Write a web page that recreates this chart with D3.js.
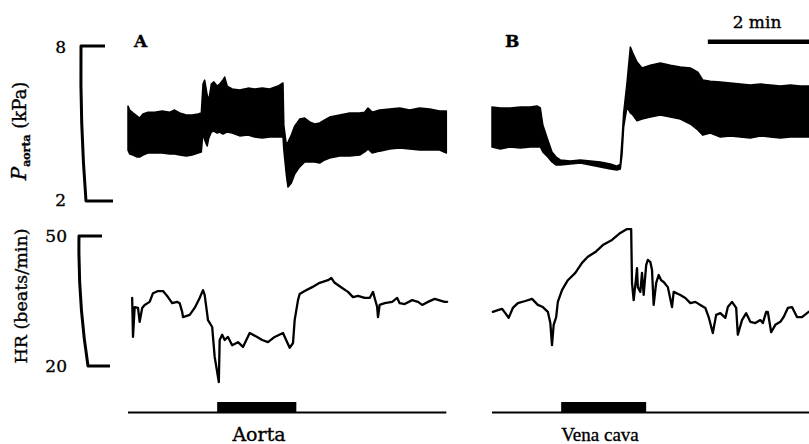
<!DOCTYPE html>
<html><head><meta charset="utf-8">
<script src="https://cdn.jsdelivr.net/npm/d3@7"></script>
<style>body{margin:0;background:#fff} svg{display:block} text{stroke:#000;stroke-width:0.35px}</style>
</head><body>
<svg id="c" width="809" height="444"></svg>
<script>
// ---------- DATA (time in seconds from start of each panel) ----------
const pressureTicks = [8, 2];
const hrTicks = [50, 20];
const panelLabels = ["A", "B"];
const occlusionLabels = ["Aorta", "Vena cava"];
const occlusionA = [107, 202];   // s
const occlusionB = [83, 185];    // s
const scaleBarMin = 2;

// Panel A – aortic pressure (kPa): systolic (top) / diastolic (bottom)
const tA_P = [0,2,6,11,14,18,24,32,41,50,56,62,70,77,84,88,90,92,95,97,100,103,107,110,114,116,119,125,134,144,152,161,170,180,186,187,190,192,196,200,206,212,218,224,230,236,242,254,266,278,284,288,293,302,314,326,338,350,362,374,382];
const sysA = [5.68,5.52,5.41,5.29,5.21,5.37,5.44,5.44,5.48,5.44,5.52,5.41,5.33,5.33,5.37,5.41,6.53,6.68,6.10,5.91,6.53,6.61,6.45,6.53,6.68,6.80,6.45,6.34,6.30,6.37,6.34,6.37,6.34,6.45,6.57,4.94,4.17,4.28,4.55,4.90,5.17,5.21,5.06,4.98,5.02,5.14,5.25,5.33,5.41,5.41,5.44,5.60,5.44,5.52,5.56,5.60,5.52,5.60,5.56,5.48,5.48];
const diaA = [3.97,3.82,3.78,3.70,3.70,3.78,3.86,3.86,3.86,3.82,3.82,3.78,3.74,3.78,3.86,3.90,4.67,4.36,4.13,4.44,4.67,4.71,4.63,4.67,4.59,4.63,4.67,4.63,4.52,4.55,4.48,4.44,4.48,4.48,4.48,3.97,3.01,2.54,2.70,3.04,3.32,3.51,3.51,3.51,3.47,3.59,3.66,3.74,3.74,3.78,3.90,4.01,3.86,3.93,4.01,4.05,4.01,3.97,3.97,3.97,3.86];

// Panel B – aortic pressure (kPa)
const tB_P = [0,10,22,34,46,54,58,61,67,72,77,82,94,106,118,130,142,150,154,156,158,162,166,169,174,180,190,202,214,226,238,247,253,262,274,286,298,310,322,334,346,358,370,380];
const sysB = [5.64,5.60,5.60,5.64,5.64,5.68,5.60,4.94,4.36,3.90,3.70,3.59,3.55,3.59,3.55,3.51,3.43,3.35,3.43,4.36,5.41,6.57,7.96,7.73,7.38,7.15,7.26,7.34,7.26,7.19,7.15,6.99,6.68,6.64,6.61,6.57,6.53,6.49,6.53,6.49,6.45,6.49,6.45,6.45];
const diaB = [4.09,4.01,4.09,4.05,4.09,4.09,4.09,3.90,3.70,3.51,3.39,3.39,3.43,3.47,3.39,3.32,3.24,3.20,3.24,3.78,4.86,5.64,5.41,5.33,5.10,5.17,5.25,5.33,5.25,5.17,4.98,4.75,4.55,4.63,4.48,4.52,4.48,4.44,4.52,4.48,4.44,4.48,4.48,4.48];

// Panel A – heart rate (beats/min)
const tA_H = [5,6,8,12,14,17,20,26,30,36,42,48,53,59,62,65,66,74,80,86,90,92,96,101,104,109,110,113,116,120,125,132,138,146,155,161,168,176,186,191,194,198,200,204,206,212,221,230,240,244,248,257,264,270,276,284,290,294,296,299,300,302,308,317,323,326,332,341,348,353,360,368,380,383];
const hrA = [35.7,26.7,33.6,33.4,30.2,33.4,34.1,34.8,36.8,37.3,37.3,35.9,34.5,34.8,34.5,32.5,31.3,31.8,33.4,35.7,37.5,36.4,30.6,29.0,22.1,16.3,26.0,27.2,26.0,26.7,24.8,25.5,24.4,27.6,26.7,26.0,25.5,26.7,27.6,25.5,24.2,25.3,30.6,35.2,36.6,37.3,38.2,39.2,39.8,40.3,39.2,38.0,37.1,35.9,36.2,35.7,35.7,37.1,35.7,33.6,31.3,34.1,34.5,34.8,35.7,34.5,34.3,35.2,34.8,34.1,34.8,35.5,34.8,34.8];

// Panel B – heart rate (beats/min)
const tB_H = [1,7,12,16,20,25,31,40,48,55,61,67,70,72,74,77,79,84,91,100,108,115,124,133,144,154,162,167,168,170,173,174,175,178,180,182,185,187,190,192,194,197,200,203,206,211,216,218,226,232,238,244,250,256,260,265,269,274,280,283,288,293,295,300,305,310,316,322,325,329,331,335,340,346,350,355,360,366,372,380];
const hrB = [32.5,32.9,33.2,32.2,31.1,33.4,34.5,35.0,35.5,34.1,33.6,32.5,29.9,24.8,29.5,31.3,34.8,37.5,39.8,41.5,43.8,45.2,46.3,47.9,49.1,50.7,51.6,51.6,39.2,35.2,40.5,42.6,38.2,37.1,41.5,36.4,43.3,44.5,44.0,42.2,34.1,39.2,41.0,39.8,39.4,38.2,33.6,37.1,36.4,35.7,34.5,34.8,34.1,33.4,31.3,27.6,31.8,32.2,31.1,33.6,34.8,33.4,27.2,30.6,32.2,30.2,29.9,30.6,29.9,32.5,32.5,27.8,29.5,30.2,31.3,33.4,33.6,31.3,31.3,32.5];

// ---------- DRAWING ----------
const svg = d3.select("#c");
const serif = "'DejaVu Serif', 'Liberation Serif', serif";
const times = "'Liberation Serif', serif";
const yP = d3.scaleLinear().domain([2, 8]).range([201, 46]);
const yH = d3.scaleLinear().domain([20, 50]).range([366, 236]);
const xA = d3.scaleLinear().domain([0, 384]).range([128, 448]);
const xB = d3.scaleLinear().domain([0, 384]).range([492, 812]);

function band(x, t, sys, dia) {
  const idx = d3.range(t.length);
  const area = d3.area()
    .x(i => x(t[i])).y0(i => yP(dia[i])).y1(i => yP(sys[i]))
    .curve(d3.curveLinear);
  svg.append("path").attr("d", area(idx))
    .attr("fill", "#000").attr("stroke", "#000").attr("stroke-width", 1.5)
    .attr("stroke-linejoin", "round");
}
band(xA, tA_P, sysA, diaA);
band(xB, tB_P, sysB, diaB);

function hrLine(x, t, hr) {
  const idx = d3.range(t.length);
  const line = d3.line().x(i => x(t[i])).y(i => yH(hr[i])).curve(d3.curveLinear);
  svg.append("path").attr("d", line(idx))
    .attr("fill", "none").attr("stroke", "#000").attr("stroke-width", 2.3)
    .attr("stroke-linejoin", "round").attr("stroke-linecap", "round");
}
hrLine(xA, tA_H, hrA);
hrLine(xB, tB_H, hrB);

// Bracket axes
function bracket(y, top, bot, xt1, xt2, xb1, xb2) {
  svg.append("path")
    .attr("d", `M${xt2},${y(top)} L${xt1},${y(top)} Q${xt1 - 1},${(y(top) + y(bot)) / 2} ${xb1},${y(bot)} L${xb2},${y(bot)}`)
    .attr("fill", "none").attr("stroke", "#000").attr("stroke-width", 3)
    .attr("stroke-linejoin", "round");
}
bracket(yP, pressureTicks[0], pressureTicks[1], 81, 105, 86, 113);
bracket(yH, hrTicks[0], hrTicks[1], 79, 102, 88, 110);

const tickFont = 17;
svg.append("text").text(pressureTicks[0]).attr("x", 66).attr("y", yP(pressureTicks[0]) + 7)
  .attr("text-anchor", "end").attr("font-family", serif).attr("font-size", tickFont);
svg.append("text").text(pressureTicks[1]).attr("x", 66).attr("y", yP(pressureTicks[1]) + 5)
  .attr("text-anchor", "end").attr("font-family", serif).attr("font-size", tickFont);
svg.append("text").text(hrTicks[0]).attr("x", 67).attr("y", yH(hrTicks[0]) + 6)
  .attr("text-anchor", "end").attr("font-family", serif).attr("font-size", tickFont);
svg.append("text").text(hrTicks[1]).attr("x", 67).attr("y", yH(hrTicks[1]) + 6)
  .attr("text-anchor", "end").attr("font-family", serif).attr("font-size", tickFont);

// Y labels
const pl = svg.append("text").attr("transform", "translate(26,131) rotate(-90)")
  .attr("text-anchor", "middle").attr("font-family", serif).attr("font-size", 18);
pl.append("tspan").text("P").attr("font-style", "italic").attr("font-size", 20);
pl.append("tspan").text("aorta").attr("font-size", 11).attr("font-weight", "bold").attr("dy", 4);
pl.append("tspan").text(" (kPa)").attr("dy", -4);

svg.append("text").text("HR (beats/min)").attr("transform", "translate(27,296) rotate(-90)")
  .attr("text-anchor", "middle").attr("font-family", serif).attr("font-size", 17.5);

// Panel labels
svg.append("text").text(panelLabels[0]).attr("x", 134).attr("y", 47)
  .attr("font-family", serif).attr("font-weight", "bold").attr("font-size", 17);
svg.append("text").text(panelLabels[1]).attr("x", 505).attr("y", 47)
  .attr("font-family", serif).attr("font-weight", "bold").attr("font-size", 17);

// Scale bar
const sb0 = 259;
svg.append("rect").attr("x", xB(sb0)).attr("y", 39.5)
  .attr("width", xB(sb0 + scaleBarMin * 60) - xB(sb0) + 2).attr("height", 4.5).attr("fill", "#000");
svg.append("text").text(scaleBarMin + " min").attr("x", 757).attr("y", 28)
  .attr("text-anchor", "middle").attr("font-family", serif).attr("font-size", 17);

// Occlusion event markers
function event(x, span, label, lx, font, size) {
  svg.append("line").attr("x1", x(0)).attr("x2", x(382)).attr("y1", 412.5).attr("y2", 412.5)
    .attr("stroke", "#000").attr("stroke-width", 2);
  svg.append("rect").attr("x", x(span[0])).attr("y", 402)
    .attr("width", x(span[1]) - x(span[0])).attr("height", 11).attr("fill", "#000");
  svg.append("text").text(label).attr("x", lx).attr("y", 441)
    .attr("text-anchor", "middle").attr("font-family", font).attr("font-size", size);
}
event(xA, occlusionA, occlusionLabels[0], 259, serif, 19);
event(xB, occlusionB, occlusionLabels[1], 600, times, 19);
</script>
</body></html>
